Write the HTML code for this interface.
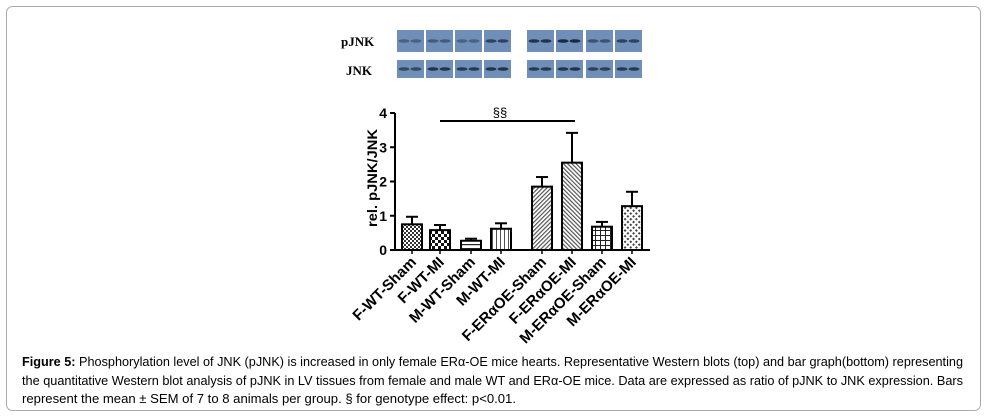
<!DOCTYPE html>
<html><head><meta charset="utf-8"><style>
html,body{margin:0;padding:0;background:#fff;}
svg{display:block;font-family:"Liberation Sans",Arial,sans-serif;}
</style></head><body>
<svg id="fig" width="987" height="420" viewBox="0 0 987 420">
<defs>
<pattern id="p0" width="4" height="4" patternUnits="userSpaceOnUse"><rect width="4" height="4" fill="#fff"/><rect width="2" height="2" fill="#333"/><rect x="2" y="2" width="2" height="2" fill="#333"/></pattern>
<pattern id="p1" width="6" height="6" patternUnits="userSpaceOnUse"><rect width="6" height="6" fill="#fff"/><rect width="3" height="3" fill="#111"/><rect x="3" y="3" width="3" height="3" fill="#111"/></pattern>
<pattern id="p2" width="4" height="4" patternUnits="userSpaceOnUse"><rect width="4" height="4" fill="#fff"/><rect y="0" width="4" height="1.2" fill="#222"/></pattern>
<pattern id="p3" width="4" height="4" patternUnits="userSpaceOnUse"><rect width="4" height="4" fill="#fff"/><rect x="0" width="1" height="4" fill="#555"/></pattern>
<pattern id="p4" width="3" height="3" patternUnits="userSpaceOnUse" patternTransform="rotate(45)"><rect width="3" height="3" fill="#fff"/><rect width="1.2" height="3" fill="#555"/></pattern>
<pattern id="p5" width="3" height="3" patternUnits="userSpaceOnUse" patternTransform="rotate(-45)"><rect width="3" height="3" fill="#fff"/><rect width="1.2" height="3" fill="#555"/></pattern>
<pattern id="p6" width="5" height="5" patternUnits="userSpaceOnUse"><rect width="5" height="5" fill="#fff"/><rect width="5" height="1" fill="#222"/><rect width="1" height="5" fill="#222"/></pattern>
<pattern id="p7" width="4" height="4" patternUnits="userSpaceOnUse" patternTransform="rotate(45)"><rect width="4" height="4" fill="#fff"/><rect width="2" height="2" fill="#444"/></pattern>
</defs>
<rect x="6.5" y="6.5" width="974" height="404" rx="6" fill="#fff" stroke="#aaa"/>
<text x="341" y="46" font-family="Liberation Serif" font-weight="bold" font-size="13">pJNK</text>
<text x="346" y="75" font-family="Liberation Serif" font-weight="bold" font-size="13">JNK</text>
<g id="blots"></g>
<g id="chart"></g>
<text transform="translate(377,178) rotate(-90)" text-anchor="middle" font-weight="bold" font-size="14" textLength="98" lengthAdjust="spacingAndGlyphs">rel. pJNK/JNK</text>
<text x="500" y="117" text-anchor="middle" font-size="13">§§</text>
<line x1="440" y1="121" x2="575" y2="121" stroke="#000" stroke-width="2"/>
<g font-size="12.5">
<text x="22" y="366" textLength="941" lengthAdjust="spacingAndGlyphs"><tspan font-weight="bold">Figure 5:</tspan> Phosphorylation level of JNK (pJNK) is increased in only female ERα-OE mice hearts. Representative Western blots (top) and bar graph(bottom) representing</text>
<text x="22" y="385" textLength="941" lengthAdjust="spacingAndGlyphs">the quantitative Western blot analysis of pJNK in LV tissues from female and male WT and ERα-OE mice. Data are expressed as ratio of pJNK to JNK expression. Bars</text>
<text x="22" y="403" textLength="494" lengthAdjust="spacingAndGlyphs">represent the mean ± SEM of 7 to 8 animals per group. § for genotype effect: p&lt;0.01.</text>
</g>
</svg>
<script>
const categories=["F-WT-Sham","F-WT-MI","M-WT-Sham","M-WT-MI","F-ERαOE-Sham","F-ERαOE-MI","M-ERαOE-Sham","M-ERαOE-MI"];
const means=[0.75,0.58,0.27,0.62,1.85,2.55,0.68,1.28];
const sems=[0.22,0.15,0.06,0.16,0.28,0.87,0.14,0.42];
const yTicks=[0,1,2,3,4];
const pjnkDark=[0.45,0.5,0.45,0.75,0.9,1.0,0.6,0.75];
const jnkDark=[0.7,0.9,0.85,0.9,0.85,0.9,0.8,0.85];
const NS="http://www.w3.org/2000/svg";
const y0=250,pxPerUnit=34.25,axX=395;
const yS=v=>y0-v*pxPerUnit;
const centers=[412,440,471,501,542,572,602,632];
const xS=i=>centers[i];
function mk(tag,attrs,parent){const e=document.createElementNS(NS,tag);for(const k in attrs)e.setAttribute(k,attrs[k]);parent.appendChild(e);return e;}
const chart=document.getElementById('chart');
const fills=["p0","p1","p2","p3","p4","p5","p6","p7"];
means.forEach((m,i)=>{
  const cx=xS(i);
  const top=yS(m+sems[i]);
  const l=mk('line',{x1:cx,x2:cx,y1:yS(m),y2:top,stroke:'#000','stroke-width':2},chart);
  
  
  const c=mk('line',{x1:cx-6,x2:cx+6,y1:top,y2:top,stroke:'#000','stroke-width':2},chart);
  
  
  const r=mk('rect',{x:cx-10,y:yS(m),width:20,height:m*pxPerUnit,fill:'url(#'+fills[i]+')',stroke:'#000','stroke-width':2},chart);
  
  
  const t=mk('line',{x1:cx,x2:cx,y1:y0,y2:y0+4,stroke:'#000','stroke-width':1.5},chart);
  
  
  const tx=mk('text',{x:cx+5,y:y0+13,'text-anchor':'end','font-weight':'bold','font-size':15,transform:`rotate(-45 ${cx+5} ${y0+13})`},chart);
  tx.textContent=categories[i];
  
  
});
const ax=mk('line',{x1:axX,x2:axX,y1:yS(4),y2:y0,stroke:'#000','stroke-width':2},chart);


const xa=mk('line',{x1:axX,x2:650,y1:y0,y2:y0,stroke:'#000','stroke-width':2},chart);


yTicks.forEach(v=>{
  const t=mk('line',{x1:axX-5,x2:axX,y1:yS(v),y2:yS(v),stroke:'#000','stroke-width':2},chart);
  
  
  const tx=mk('text',{x:axX-8,y:yS(v)+5,'text-anchor':'end','font-weight':'bold','font-size':14},chart);
  tx.textContent=v;
  
  
});
const blots=document.getElementById('blots');
const boxX=[397,426,455,484,527,556,586,615];
boxX.forEach((bx,i)=>{
  [[30,22,pjnkDark[i],'pjnk'],[60,18,jnkDark[i],'jnk']].forEach(([by,bh,d,nm])=>{
    const g=mk('rect',{x:bx,y:by,width:27,height:bh,fill:'#6f8fb8'},blots);
    
    
    [bx+7,bx+19].forEach(bcx=>{
      const e=mk('ellipse',{cx:bcx,cy:by+bh/2,rx:5.5,ry:1.8,fill:'#1a2a40','fill-opacity':d},blots);
      
      
    });
  });
});
</script>
</body></html>
